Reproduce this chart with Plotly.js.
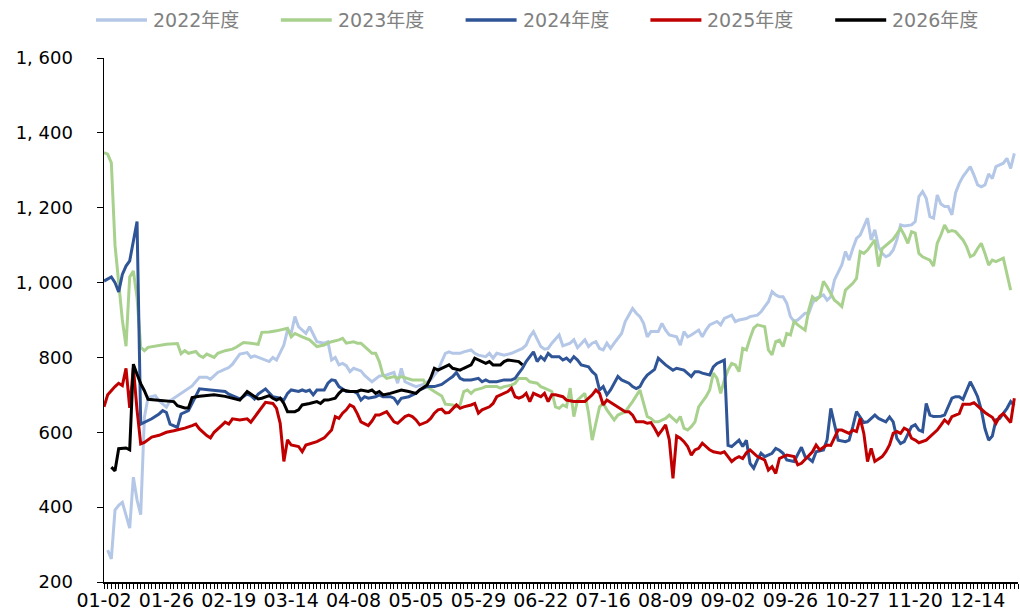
<!DOCTYPE html>
<html>
<head>
<meta charset="utf-8">
<script src="https://cdn.plot.ly/plotly-3.0.1.min.js"></script>
<style>html,body{margin:0;padding:0;background:#fff;}#chart{width:1020px;height:610px;}</style>
</head>
<body>
<div id="chart"></div>
<script>
// x-axis tick labels (one label every 17 trading days)
const tickLabels = ['01-02','01-26','02-19','03-14','04-08','05-05','05-29','06-22','07-16','08-09','09-02','09-26','10-27','11-20','12-14'];
const daysPerLabel = 17;

// y-axis tick values / labels
const yTickVals = [200,400,600,800,1000,1200,1400,1600];
const yTickText = ['200','400','600','800','1, 000','1, 200','1, 400','1, 600'];

const seriesNames = ['2022年度','2023年度','2024年度','2025年度','2026年度'];

// [trading-day index, value]
const s2022 = [[1,285],[2,262],[3,392],[4,405],[5,413],[7,344],[8,480],[9,419],[10,380],[11,640],[12,693],[14,698],[15,684],[17,667],[18,684],[20,698],[22,711],[24,724],[26,747],[28,747],[29,742],[31,760],[33,769],[34,773],[35,782],[37,809],[39,813],[40,800],[41,804],[42,800],[44,791],[45,789],[46,800],[47,793],[49,833],[50,873],[51,864],[52,909],[53,882],[54,873],[55,864],[56,882],[57,860],[58,842],[60,838],[61,842],[62,793],[63,800],[64,780],[65,784],[66,778],[67,762],[68,771],[70,764],[71,752],[72,744],[73,735],[75,750],[77,753],[79,760],[80,731],[81,771],[82,735],[84,726],[85,722],[87,728],[89,740],[90,753],[91,765],[92,789],[93,811],[94,815],[95,811],[97,811],[98,815],[100,820],[101,811],[102,806],[104,802],[105,811],[106,798],[107,811],[109,806],[111,811],[112,815],[114,824],[115,833],[116,855],[117,869],[118,847],[119,829],[120,822],[121,824],[122,838],[124,860],[125,831],[127,838],[128,847],[129,826],[131,847],[132,829],[133,838],[134,842],[135,824],[136,820],[137,838],[138,824],[139,838],[141,864],[142,896],[143,913],[144,931],[145,918],[146,909],[147,891],[148,855],[149,869],[151,869],[152,891],[153,873],[154,860],[156,855],[157,833],[158,869],[159,855],[160,860],[162,873],[163,855],[164,873],[165,887],[167,896],[168,887],[169,904],[171,913],[172,896],[173,900],[175,904],[176,909],[178,913],[179,922],[180,936],[181,949],[182,976],[183,967],[184,962],[185,962],[186,945],[187,909],[188,896],[189,900],[190,909],[191,918],[192,918],[193,945],[194,958],[196,967],[197,953],[198,962],[199,1007],[200,1025],[201,1047],[202,1083],[203,1060],[204,1091],[205,1118],[206,1127],[208,1172],[209,1114],[210,1141],[211,1096],[212,1078],[213,1069],[214,1074],[215,1087],[216,1114],[217,1154],[218,1151],[220,1154],[221,1163],[222,1230],[223,1243],[224,1225],[225,1176],[226,1172],[227,1234],[228,1210],[229,1203],[230,1203],[231,1181],[232,1240],[233,1265],[234,1283],[236,1310],[237,1287],[238,1261],[239,1256],[240,1261],[241,1290],[242,1278],[243,1310],[244,1314],[245,1319],[246,1332],[247,1305],[248,1345]];

const s2023 = [[0,1347],[1,1343],[2,1320],[3,1100],[4,1000],[5,900],[6,830],[7,1015],[8,1031],[9,960],[10,827],[11,818],[12,827],[14,831],[17,835],[20,837],[21,810],[22,818],[23,811],[25,816],[26,805],[27,800],[28,809],[30,800],[31,811],[33,818],[35,822],[36,827],[38,840],[40,838],[42,835],[43,867],[45,868],[47,871],[49,875],[50,878],[51,855],[52,864],[54,855],[56,847],[58,829],[60,833],[61,838],[62,842],[64,847],[65,851],[66,838],[68,842],[69,838],[70,838],[72,820],[73,811],[74,811],[75,789],[76,753],[77,744],[79,749],[80,744],[81,749],[83,744],[84,740],[87,740],[88,722],[90,709],[91,702],[92,697],[93,675],[95,673],[96,668],[97,673],[98,709],[99,713],[100,704],[101,713],[103,718],[104,722],[107,722],[108,718],[109,722],[111,726],[112,731],[113,744],[115,744],[116,735],[118,731],[119,722],[120,718],[122,709],[123,668],[124,664],[125,673],[126,668],[127,718],[128,642],[129,686],[131,704],[132,651],[133,579],[134,624],[135,668],[136,677],[137,660],[139,633],[140,646],[142,655],[143,668],[144,682],[146,713],[147,677],[148,642],[149,637],[150,628],[151,628],[153,637],[154,646],[155,637],[156,628],[157,642],[158,611],[159,606],[160,615],[161,628],[162,668],[164,695],[165,713],[166,758],[167,744],[168,704],[169,740],[170,766],[171,784],[172,780],[173,762],[174,824],[175,820],[176,851],[177,878],[178,887],[180,882],[181,820],[182,807],[183,842],[184,846],[185,829],[186,864],[187,860],[188,896],[189,887],[191,873],[192,927],[193,962],[194,953],[195,962],[196,1003],[197,989],[198,971],[199,953],[200,945],[201,936],[202,980],[203,989],[204,998],[205,1011],[206,1083],[207,1078],[208,1087],[210,1114],[211,1043],[212,1091],[213,1100],[214,1109],[215,1116],[216,1130],[217,1145],[218,1127],[219,1105],[220,1136],[221,1132],[222,1078],[223,1069],[225,1060],[226,1044],[227,1105],[228,1127],[229,1154],[230,1136],[231,1139],[232,1136],[234,1114],[235,1096],[236,1069],[237,1074],[238,1091],[239,1105],[240,1078],[241,1047],[242,1060],[243,1056],[245,1065],[246,1025],[247,980]];

const s2024 = [[0,1004],[2,1015],[3,1000],[4,975],[5,1022],[6,1044],[7,1058],[9,1163],[10,622],[12,631],[13,636],[15,649],[16,658],[17,653],[18,622],[20,613],[21,649],[23,658],[24,676],[26,716],[29,713],[33,709],[34,702],[37,689],[39,702],[40,698],[41,689],[42,702],[44,716],[46,695],[48,691],[49,686],[50,704],[51,713],[53,709],[54,713],[55,709],[56,713],[57,700],[58,713],[60,713],[61,731],[62,740],[63,738],[64,722],[66,709],[68,709],[69,704],[70,686],[71,695],[72,691],[74,695],[75,700],[76,695],[78,695],[79,691],[80,677],[81,691],[83,695],[85,704],[86,713],[88,722],[90,722],[92,728],[94,742],[95,749],[96,760],[97,744],[98,740],[100,740],[102,744],[103,735],[104,740],[105,735],[107,735],[108,738],[109,740],[111,740],[112,744],[113,758],[114,771],[115,789],[117,815],[118,789],[119,802],[120,793],[121,811],[122,802],[124,802],[125,793],[126,798],[127,789],[128,802],[129,793],[130,780],[132,775],[133,762],[134,753],[135,713],[136,722],[137,700],[138,713],[139,731],[140,749],[141,740],[143,731],[144,722],[145,717],[146,722],[147,740],[148,753],[150,768],[151,798],[152,789],[153,780],[155,766],[156,771],[158,766],[159,758],[160,749],[161,762],[162,762],[163,758],[165,753],[166,775],[167,784],[169,793],[170,565],[171,562],[172,571],[173,579],[174,562],[175,579],[176,517],[177,504],[178,526],[179,544],[180,535],[182,544],[183,557],[184,552],[185,544],[186,526],[188,522],[189,539],[190,560],[191,535],[192,530],[193,522],[194,548],[196,553],[197,580],[198,664],[199,624],[200,579],[202,575],[203,579],[204,615],[205,655],[207,626],[208,628],[210,646],[211,637],[213,628],[214,641],[215,628],[216,584],[217,570],[218,575],[220,615],[221,620],[222,606],[223,602],[224,677],[225,646],[226,642],[228,643],[229,646],[231,691],[232,695],[233,695],[234,688],[236,735],[237,716],[238,695],[239,660],[240,610],[241,579],[242,590],[243,633],[244,637],[246,664],[247,682],[248,672]];

const s2025 = [[0,668],[1,700],[3,722],[4,731],[5,725],[6,771],[7,665],[8,773],[9,660],[10,569],[11,573],[13,587],[15,592],[17,600],[19,604],[22,611],[24,618],[25,622],[26,609],[28,591],[29,585],[30,600],[32,618],[33,627],[34,622],[35,636],[37,633],[39,636],[40,627],[41,640],[43,667],[44,680],[46,677],[47,664],[48,624],[49,522],[50,580],[51,566],[53,562],[54,548],[55,566],[57,571],[58,575],[60,585],[61,597],[62,606],[63,642],[64,637],[65,651],[66,660],[67,673],[68,668],[69,650],[70,628],[72,618],[73,630],[74,646],[75,646],[77,655],[78,642],[79,628],[80,624],[82,642],[83,646],[84,642],[85,633],[86,620],[88,628],[89,637],[90,651],[91,660],[92,662],[93,652],[94,653],[95,664],[96,673],[97,664],[98,668],[100,673],[101,677],[102,651],[103,660],[105,668],[106,677],[107,695],[108,700],[110,709],[111,718],[112,695],[113,691],[114,695],[115,704],[116,682],[117,704],[118,700],[119,695],[120,704],[121,682],[122,700],[123,700],[125,695],[126,686],[128,682],[131,682],[133,700],[134,713],[135,704],[136,673],[137,686],[138,680],[139,673],[140,668],[141,660],[142,655],[143,655],[144,646],[145,628],[147,628],[148,624],[149,626],[150,611],[151,593],[152,606],[153,620],[154,580],[155,477],[156,590],[157,584],[158,575],[159,562],[160,539],[161,553],[162,557],[163,571],[165,553],[166,548],[168,544],[169,548],[170,535],[171,522],[172,530],[173,535],[174,530],[175,545],[176,553],[177,544],[178,535],[180,526],[181,499],[182,508],[183,490],[184,530],[185,535],[186,539],[188,535],[189,513],[190,517],[192,539],[193,548],[194,566],[195,553],[196,560],[197,566],[198,565],[199,585],[200,606],[201,606],[203,597],[204,606],[205,602],[206,637],[207,597],[208,522],[209,557],[210,522],[212,535],[213,548],[214,566],[215,597],[216,602],[217,597],[218,611],[219,606],[220,584],[221,579],[222,572],[224,579],[225,588],[227,606],[228,619],[229,633],[230,624],[231,642],[232,646],[233,650],[234,675],[236,675],[237,679],[239,660],[240,653],[241,646],[242,640],[243,624],[244,642],[245,650],[246,637],[247,626],[248,691]];

const s2026 = [[2,507],[3,497],[4,556],[6,558],[7,553],[8,782],[9,755],[10,730],[11,711],[12,688],[14,686],[17,684],[19,682],[20,671],[22,665],[23,665],[24,693],[26,696],[30,700],[33,696],[35,691],[37,686],[39,709],[40,702],[42,689],[43,691],[45,698],[46,691],[47,686],[48,691],[49,677],[50,655],[52,655],[53,660],[54,673],[56,677],[58,682],[59,677],[60,686],[61,686],[63,691],[64,704],[65,713],[67,709],[69,709],[70,713],[72,709],[73,713],[74,704],[75,709],[76,700],[78,704],[80,709],[81,713],[83,709],[85,704],[86,713],[88,726],[89,745],[90,771],[91,766],[92,771],[93,777],[94,780],[95,771],[97,766],[98,771],[100,780],[101,798],[102,793],[104,784],[105,789],[106,780],[108,780],[109,789],[110,793],[112,791],[113,789],[114,780]];

const allSeries = [s2022, s2023, s2024, s2025, s2026];
const colors = ['#b4c7e7', '#a9d18e', '#2f5597', '#c00000', '#000000'];

const FONT = 'DejaVu Sans, Noto Sans CJK SC, sans-serif';

const W = 1020, H = 610;
const M = {l: 104, r: 2, t: 58, b: 28};
const plotW = W - M.l - M.r, plotH = H - M.t - M.b;
// pixel -> paper helpers for the legend row above the plot
const px2x = px => (px - M.l) / plotW;
const py2y = py => (H - M.b - py) / plotH;

const traces = allSeries.map((s, i) => ({
  type: 'scatter',
  mode: 'lines',
  name: seriesNames[i],
  x: s.map(p => p[0]),
  y: s.map(p => p[1]),
  line: {color: colors[i], width: 3},
  hoverinfo: 'skip',
  showlegend: false
}));

// legend row drawn as shapes + annotations (single row like the reference)
const legendStart = 96, legendStep = 184.8, legendLine = 51, legendY = 20;
const shapes = [], annotations = [];
seriesNames.forEach((name, i) => {
  const x0 = legendStart + i * legendStep;
  shapes.push({type: 'line', xref: 'paper', yref: 'paper',
    x0: px2x(x0), x1: px2x(x0 + legendLine), y0: py2y(legendY), y1: py2y(legendY),
    line: {color: colors[i], width: 3.5}});
  annotations.push({xref: 'paper', yref: 'paper', x: px2x(x0 + legendLine + 4), y: py2y(legendY),
    xanchor: 'left', yanchor: 'middle', showarrow: false, text: name,
    font: {family: FONT, size: 19, color: '#808080'}});
});

const layout = {
  width: W,
  height: H,
  margin: {l: M.l, r: M.r, t: M.t, b: M.b, pad: 0},
  paper_bgcolor: '#ffffff',
  plot_bgcolor: '#ffffff',
  showlegend: false,
  shapes: shapes,
  annotations: annotations,
  xaxis: {
    range: [0, 249],
    tickmode: 'array',
    tickvals: tickLabels.map((_, i) => i * daysPerLabel),
    ticktext: tickLabels,
    ticks: 'outside', ticklen: 5, tickwidth: 1, tickcolor: '#000',
    ticklabelstandoff: -4,
    minor: {dtick: 1, tick0: 0, ticks: 'outside', ticklen: 5, tickwidth: 1, tickcolor: '#000', showgrid: false},
    showline: true, linecolor: '#000', linewidth: 1.5,
    showgrid: false, zeroline: false,
    tickfont: {family: FONT, size: 19, color: '#000'},
    fixedrange: true
  },
  yaxis: {
    range: [200, 1600],
    tickmode: 'array',
    tickvals: yTickVals,
    ticktext: yTickText,
    ticks: 'outside', ticklen: 6, tickwidth: 1, tickcolor: '#000',
    ticklabelstandoff: 20,
    showline: true, linecolor: '#000', linewidth: 1.5,
    showgrid: false, zeroline: false,
    tickfont: {family: FONT, size: 18, color: '#000'},
    fixedrange: true
  }
};

Plotly.newPlot('chart', traces, layout, {displayModeBar: false, staticPlot: true});
</script>
</body>
</html>
